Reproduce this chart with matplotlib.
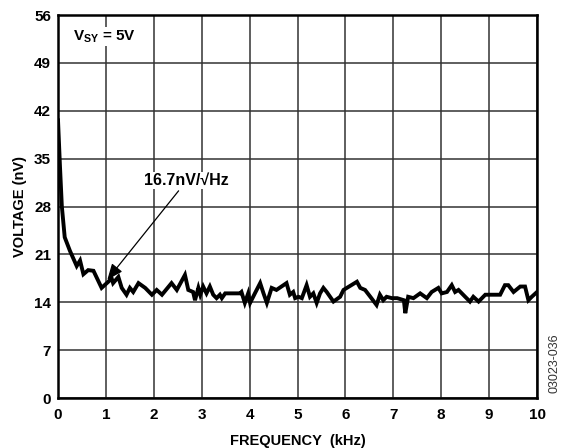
import matplotlib
matplotlib.use("Agg")
import matplotlib.pyplot as plt

plt.rcParams['font.family'] = ['Liberation Sans', 'DejaVu Sans']
plt.rcParams['font.weight'] = 'bold'
plt.rcParams['mathtext.fontset'] = 'custom'
plt.rcParams['mathtext.rm'] = 'Liberation Sans:bold'
plt.rcParams['mathtext.bf'] = 'Liberation Sans:bold'

# 噪声电压曲线 (kHz, nV)
freq_khz = [0.00, 0.04, 0.08, 0.14, 0.25, 0.39, 0.46, 0.53, 0.63, 0.74,
            0.91, 1.05, 1.12, 1.15, 1.26, 1.33, 1.43, 1.50, 1.57, 1.68,
            1.82, 1.96, 2.06, 2.17, 2.37, 2.48, 2.65, 2.72, 2.82, 2.86,
            2.93, 2.97, 3.03, 3.10, 3.17, 3.24, 3.31, 3.38, 3.42, 3.49,
            3.80, 3.83, 3.90, 3.97, 4.01, 4.11, 4.22, 4.29, 4.36, 4.46,
            4.56, 4.77, 4.84, 4.91, 4.95, 5.02, 5.09, 5.19, 5.26, 5.33,
            5.40, 5.47, 5.54, 5.61, 5.75, 5.89, 5.96, 6.03, 6.24, 6.31,
            6.41, 6.52, 6.65, 6.72, 6.79, 6.86, 6.97, 7.08, 7.22, 7.25,
            7.31, 7.42, 7.56, 7.70, 7.80, 7.94, 8.01, 8.12, 8.22, 8.29,
            8.36, 8.50, 8.60, 8.67, 8.78, 8.92, 9.09, 9.23, 9.33, 9.40,
            9.51, 9.65, 9.75, 9.82, 9.89, 10.00]
voltage_nv = [40.6, 34.0, 28.0, 23.5, 21.5, 19.3, 20.1, 18.1, 18.7, 18.6,
              16.1, 17.0, 17.5, 16.8, 17.7, 16.1, 15.1, 16.1, 15.5, 16.8,
              16.1, 15.1, 15.8, 15.1, 16.8, 15.8, 18.0, 15.8, 15.5, 14.3,
              16.1, 15.1, 16.3, 15.3, 16.3, 15.1, 14.6, 15.1, 14.6, 15.3,
              15.3, 15.5, 13.9, 15.3, 13.9, 15.3, 16.8, 15.3, 13.9, 16.1,
              15.8, 16.8, 15.1, 15.5, 14.6, 14.8, 14.6, 16.5, 14.8, 15.3,
              13.9, 15.3, 16.1, 15.5, 14.1, 14.8, 15.8, 16.1, 17.0, 16.1,
              15.8, 14.8, 13.6, 15.1, 14.3, 14.8, 14.6, 14.6, 14.3, 12.4,
              14.8, 14.6, 15.3, 14.6, 15.5, 16.1, 15.3, 15.5, 16.5, 15.5,
              15.8, 14.8, 14.1, 14.8, 14.1, 15.1, 15.1, 15.1, 16.5, 16.5,
              15.5, 16.3, 16.3, 14.3, 14.8, 15.5]

x_ticks = list(range(0, 11))
y_ticks = [0, 7, 14, 21, 28, 35, 42, 49, 56]

fig = plt.figure(figsize=(5.66, 4.48), dpi=100)
ax = fig.add_axes([0.1025, 0.1116, 0.8463, 0.8549])

ax.plot(freq_khz, voltage_nv, color="black", linewidth=2.8, solid_joinstyle="miter", zorder=3)

ax.set_xlim(0, 10)
ax.set_ylim(0, 56)
ax.set_xticks(x_ticks)
ax.set_yticks(y_ticks)
ax.tick_params(axis="x", length=0, labelsize=11, pad=7)
ax.tick_params(axis="y", length=0, labelsize=11, pad=5)
for lab in ax.get_xticklabels() + ax.get_yticklabels():
    lab.set_fontweight('bold')
ax.grid(True, color="#333333", linewidth=1.1)
for sp in ax.spines.values():
    sp.set_linewidth(1.8)

ax.set_xlabel("FREQUENCY  (kHz)", fontsize=10.5, fontweight='bold', labelpad=9)
ax.set_ylabel("VOLTAGE (nV)", fontsize=10.5, fontweight='bold', labelpad=5)

ax.text(0.31, 52.8, r"$\mathbf{V_{SY}}$ = 5V", fontsize=11, fontweight='bold',
        va="center", ha="left", zorder=4,
        bbox=dict(facecolor="white", edgecolor="none", pad=1))

ax.annotate("16.7nV/√Hz", xy=(1.03, 17.3), xytext=(2.69, 31.8),
            fontsize=11.5, fontweight='bold', ha="center", va="center", zorder=4,
            bbox=dict(facecolor="white", edgecolor="none", pad=0.5),
            arrowprops=dict(arrowstyle="-|>,head_length=0.6,head_width=0.25",
                            color="black", lw=0.9,
                            mutation_scale=16, shrinkA=2, shrinkB=0))

fig.text(0.979, 0.19, "03023-036", rotation=90, fontsize=9, fontweight='normal',
         ha="center", va="center", color="#333333")

fig.savefig("out.png", dpi=100)
